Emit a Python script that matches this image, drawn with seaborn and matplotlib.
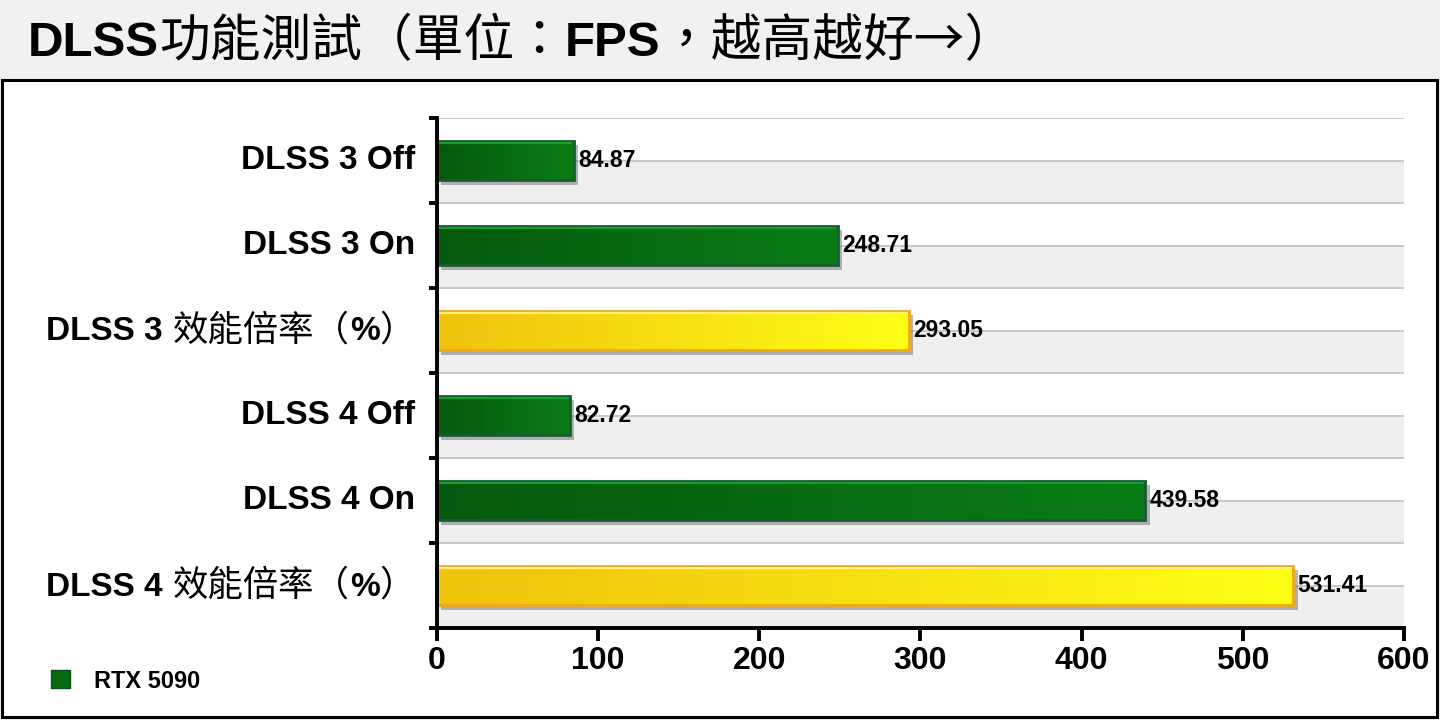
import numpy as np
import pandas as pd
import seaborn as sns
import matplotlib
matplotlib.use("Agg")
import matplotlib.pyplot as plt
from matplotlib.patches import Rectangle, Patch
from matplotlib.offsetbox import TextArea, HPacker, AnnotationBbox, DrawingArea
import matplotlib.patheffects as pe

# ---------------- data ----------------
title_text = "DLSS功能測試（單位：FPS，越高越好→）"
categories = ["DLSS 3 Off", "DLSS 3 On", "DLSS 3 效能倍率（%）",
              "DLSS 4 Off", "DLSS 4 On", "DLSS 4 效能倍率（%）"]
values = [84.87, 248.71, 293.05, 82.72, 439.58, 531.41]
kinds = ["fps", "fps", "ratio", "fps", "fps", "ratio"]
x_ticks = [0, 100, 200, 300, 400, 500, 600]
legend_label = "RTX 5090"

# ---------------- style ----------------
sns.set_theme(style="white")
plt.rcParams["font.family"] = ["Liberation Sans", "Noto Sans CJK TC", "DejaVu Sans"]
plt.rcParams["text.color"] = "black"
plt.rcParams["xtick.color"] = "black"
plt.rcParams["ytick.color"] = "black"
LATIN = ["Liberation Sans", "DejaVu Sans"]
CJK = ["Noto Sans CJK TC", "DejaVu Sans"]

grad = {"fps": ("#04580d", "#0a7c16"), "ratio": ("#efc20e", "#ffff16")}
base = {"fps": "#086a12", "ratio": "#f8e010"}
edge_dark = {"fps": "#1a5a36", "ratio": "#eeaa1c"}
edge_light = {"fps": "#12a22a", "ratio": "#fff27a"}

W, H = 1440, 720
fig = plt.figure(figsize=(W / 100, H / 100), dpi=100, facecolor="#f1f1f1")

# chart frame
frame = Rectangle((2 / W, 3 / H), 1435 / W, 637 / H, transform=fig.transFigure,
                  facecolor="white", edgecolor="black", lw=2.2, zorder=-10)
fig.patches.append(frame)

ax = fig.add_axes([437 / W, 1 - 628 / H, (1404 - 437) / W, (628 - 118) / H])
ax.set_facecolor("none")
ax.set_zorder(1)

df = pd.DataFrame({"category": categories, "value": values, "kind": kinds})
sns.barplot(data=df, x="value", y="category", hue="kind", palette=base, dodge=False,
            legend=False, width=0.47, orient="h", ax=ax, zorder=3)
bars = [p for p in ax.patches if p.get_width() > 0]

n = len(categories)
ax.set_xlim(0, 600)
ax.set_ylim(n - 0.5, -0.5)

# background stripes and grid lines (top half of each row white, bottom half grey)
for i in range(n):
    ax.axhspan(i, i + 0.5, facecolor="#efefef", zorder=0, lw=0)
    ax.axhline(i - 0.5, color="#c4c4c4", lw=1.3, zorder=1)
    ax.axhline(i, color="#c4c4c4", lw=1.3, zorder=1)

# gradient fill, edges and shadows on bars
for p in bars:
    w = p.get_width()
    y0, h = p.get_y(), p.get_height()
    idx = int(round(y0 + h / 2))
    k = kinds[idx]
    p.set_path_effects([pe.SimplePatchShadow(offset=(3, -3), shadow_rgbFace="#606060", alpha=0.45),
                        pe.Normal()])
    c0 = np.array(matplotlib.colors.to_rgb(grad[k][0]))
    c1 = np.array(matplotlib.colors.to_rgb(grad[k][1]))
    t = np.linspace(0, 1, 256)[None, :, None]
    img = c0 + (c1 - c0) * t
    im = ax.imshow(img, extent=[0, w, y0 + h, y0], aspect="auto", zorder=3.5, interpolation="bilinear")
    im.set_clip_path(p)
    ax.add_patch(Rectangle((0, y0), w, h, facecolor="none", edgecolor=edge_dark[k], lw=2.0, zorder=4))
    ax.plot([0.6, 0.6, w - 1], [y0 + h - 0.02, y0 + 0.025, y0 + 0.025], color=edge_light[k], lw=1.6,
            zorder=4.2, solid_capstyle="butt")
    ax.annotate(f"{w:.2f}", xy=(w, idx), xytext=(3, 0), textcoords="offset points",
                ha="left", va="center", fontsize=16.5, fontweight="bold", family=LATIN,
                color="black", zorder=5)

ax.set_xlim(0, 600)
ax.set_ylim(n - 0.5, -0.5)

# axes styling
for s in ["top", "right"]:
    ax.spines[s].set_visible(False)
for s in ["left", "bottom"]:
    ax.spines[s].set_color("black")
    ax.spines[s].set_linewidth(2.8)
    ax.spines[s].set_zorder(6)
ax.set_xticks(x_ticks)
ax.set_xticklabels([str(v) for v in x_ticks], fontsize=23, fontweight="bold", family=LATIN)
ax.set_yticks(np.arange(-0.5, n, 1.0))
ax.set_yticklabels([])
ax.tick_params(axis="x", direction="out", length=9, width=2.8, color="black", pad=4, bottom=True,
               labelcolor="black")
ax.tick_params(axis="y", direction="out", length=6, width=2.8, color="black", left=True)
ax.set_xlabel("")
ax.set_ylabel("")
ax.grid(False)


# rich text: Latin runs bold, CJK runs regular
def runs(s):
    out = []
    for ch in s:
        latin = ord(ch) < 128
        if out and out[-1][1] == latin:
            out[-1][0] += ch
        else:
            out.append([ch, latin])
    return out


def rich(s, latin_size, cjk_size):
    kids = []
    for txt, latin in runs(s):
        trail = latin and txt.endswith(" ")
        if latin:
            props = dict(family=LATIN, weight="bold", size=latin_size, color="black")
        else:
            props = dict(family=CJK, weight="normal", size=cjk_size, color="black")
        kids.append(TextArea(txt.rstrip(" ") if trail else txt, textprops=props))
        if trail:
            kids.append(DrawingArea(0.3 * latin_size, 1))
    return HPacker(children=kids, align="baseline", pad=0, sep=0)


for i, cat in enumerate(categories):
    box = rich(cat, 24, 25.5)
    ab = AnnotationBbox(box, (-0.023, i), xycoords=ax.get_yaxis_transform(), box_alignment=(1, 0.5),
                        frameon=False, pad=0, annotation_clip=False)
    ax.add_artist(ab)

tbox = rich(title_text, 35.5, 36.5)
tab = AnnotationBbox(tbox, (28 / W, 1 - 42 / H), xycoords="figure fraction", box_alignment=(0, 0.5),
                     frameon=False, pad=0, annotation_clip=False)
ax.add_artist(tab)

# legend
fig.legend(handles=[Patch(facecolor="#086a12", edgecolor="#0c5016")], labels=[legend_label],
           loc="center left", bbox_to_anchor=(30 / W, 1 - 681 / H), frameon=False,
           handlelength=0.8, handleheight=0.8, handletextpad=1.0,
           prop=dict(family=LATIN, weight="bold", size=17), labelcolor="black")

fig.savefig("out.png", dpi=100, facecolor=fig.get_facecolor())
